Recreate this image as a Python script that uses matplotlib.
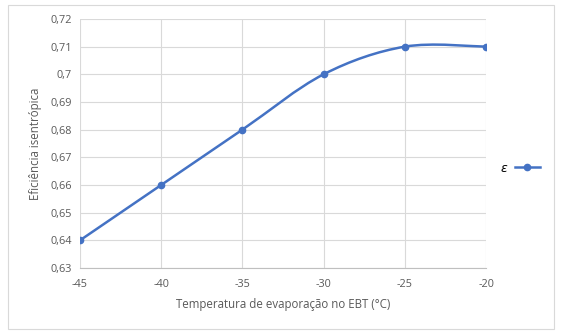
import matplotlib
matplotlib.use('Agg')
import matplotlib.pyplot as plt
from matplotlib.path import Path
from matplotlib.patches import PathPatch, Rectangle
from matplotlib.lines import Line2D
import numpy as np

temps = [-45, -40, -35, -30, -25, -20]
eff = [0.64, 0.66, 0.68, 0.70, 0.71, 0.71]

line_color = '#4472C4'
text_color = '#595959'
grid_color = '#D9D9D9'

plt.rcParams['font.family'] = ['Open Sans', 'DejaVu Sans']

fig = plt.figure(figsize=(5.62, 3.36), dpi=100)
ax = fig.add_axes([0.1423, 0.2024, 0.7225, 0.7411])

# outer chart border like Excel
fig.patches.append(Rectangle((0.014, 0.022), 0.972, 0.963, transform=fig.transFigure,
                             fill=False, edgecolor='#D9D9D9', linewidth=0.8))

# smoothed line (Excel style bezier through points)
pts = np.column_stack([temps, eff])
verts = [tuple(pts[0])]
codes = [Path.MOVETO]
n = len(pts)
for i in range(n - 1):
    p0 = pts[i - 1] if i > 0 else pts[i]
    p1 = pts[i]
    p2 = pts[i + 1]
    p3 = pts[i + 2] if i + 2 < n else pts[i + 1]
    c1 = p1 + (p2 - p0) / 6.0
    c2 = p2 - (p3 - p1) / 6.0
    verts += [tuple(c1), tuple(c2), tuple(p2)]
    codes += [Path.CURVE4] * 3
ax.add_patch(PathPatch(Path(verts, codes), facecolor='none', edgecolor=line_color,
                       linewidth=1.8, zorder=3))
ax.plot(temps, eff, linestyle='none', marker='o', markersize=4.5, color=line_color, zorder=4)

ax.set_xlim(-45, -20)
ax.set_ylim(0.63, 0.72)
ax.set_xticks(temps)
ax.set_xticklabels([str(t) for t in temps])
yt = [0.63, 0.64, 0.65, 0.66, 0.67, 0.68, 0.69, 0.70, 0.71, 0.72]
ax.set_yticks(yt)
ax.set_yticklabels([('%g' % v).replace('.', ',') for v in yt])
ax.grid(True, color=grid_color, linewidth=0.8)
ax.set_axisbelow(True)
for s in ['top', 'right', 'left']:
    ax.spines[s].set_visible(False)
ax.spines['bottom'].set_color('#BFBFBF')
ax.tick_params(length=0, labelsize=7.8, labelcolor=text_color, pad=8)
ax.tick_params(axis='y', pad=6)

ax.set_xlabel('Temperatura de evaporação no EBT (°C)', fontsize=8.3, color=text_color, labelpad=6)
ax.set_ylabel('Eficiência isentrópica', fontsize=8.3, color=text_color, labelpad=6)

handle = Line2D([], [], color=line_color, marker='o', markersize=4.5, linewidth=1.8)
leg = fig.legend([handle], [r'$\varepsilon$'], loc='center left', bbox_to_anchor=(0.87, 0.5),
                 frameon=False, fontsize=9, handlelength=2.0, markerfirst=False,
                 handletextpad=0.5)

fig.savefig('out.png', dpi=100)
